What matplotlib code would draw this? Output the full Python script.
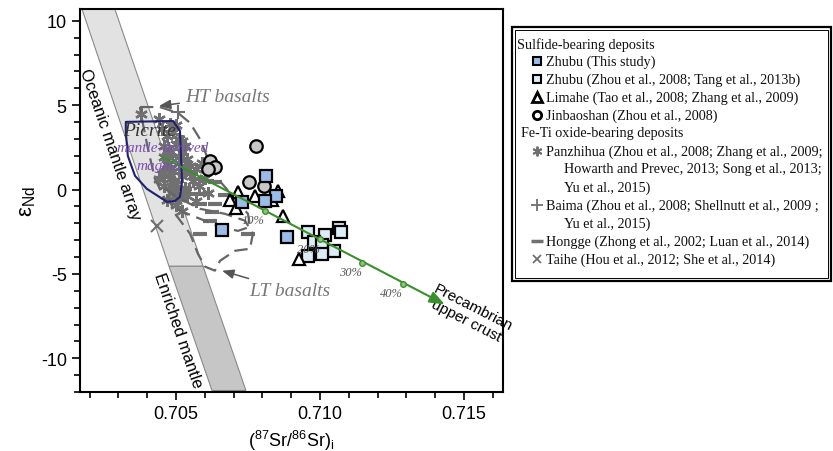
import matplotlib
matplotlib.use("Agg")
import matplotlib.pyplot as plt
from matplotlib.patches import Polygon, Rectangle
from matplotlib.ticker import MultipleLocator, FormatStrFormatter

plt.rcParams["font.family"] = ["Liberation Sans", "DejaVu Sans"]
plt.rcParams["mathtext.fontset"] = "custom"
plt.rcParams["mathtext.rm"] = "Liberation Sans"
plt.rcParams["axes.unicode_minus"] = False

# ── DATA ─────────────────────────────────────────────────────────────────────

# Zhubu (this study) – blue squares
zhubu_new_sr = [0.70811, 0.70847, 0.70809, 0.70728, 0.70659, 0.70886]
zhubu_new_nd = [0.79, -0.41, -0.65, -0.71, -2.38, -2.82]

# Zhubu (Zhou et al., 2008; Tang et al., 2013b) – light squares
zhubu_old_sr = [0.70958, 0.71017, 0.71066, 0.71073, 0.70979, 0.71007, 0.71049, 0.71007, 0.70958]
zhubu_old_nd = [-2.50, -2.68, -2.27, -2.50, -3.09, -3.27, -3.63, -3.80, -3.92]

# Limahe – open triangles
limahe_sr = [0.70715, 0.70687, 0.70708, 0.70774, 0.70854, 0.70833, 0.70872, 0.70927]
limahe_nd = [-0.14, -0.61, -1.08, -0.37, -0.08, -0.61, -1.56, -4.11]

# Jinbaoshan – grey circles
jinbao_sr = [0.70778, 0.70618, 0.70635, 0.70611, 0.70753, 0.70806]
jinbao_nd = [2.59, 1.70, 1.34, 1.22, 0.46, 0.22]

# Panzhihua – asterisks
panzhihua_sr = [0.7045, 0.7047, 0.7049, 0.7051, 0.7046, 0.7048, 0.7050, 0.7052, 0.7054,
                0.7047, 0.7049, 0.7051, 0.7053, 0.7055, 0.7048, 0.7050, 0.7052, 0.7056,
                0.7058, 0.7049, 0.7051, 0.7053, 0.7050, 0.7052, 0.7047, 0.7049, 0.7054,
                0.7057, 0.7060, 0.7044, 0.7038, 0.7046, 0.7048, 0.7053, 0.7055, 0.7045,
                0.7050, 0.7046, 0.7052, 0.7057, 0.7048, 0.7050, 0.7047, 0.7051, 0.7049,
                0.7053, 0.7046, 0.7044, 0.7059, 0.7061]
panzhihua_nd = [3.6, 3.2, 3.4, 3.0, 2.6, 2.3, 2.7, 2.2, 1.8,
                1.5, 1.1, 1.6, 1.3, 1.0, 0.6, 0.3, 0.8, 0.5,
                0.2, -0.2, -0.5, -0.1, -0.9, -1.3, -0.6, 0.0, -0.4,
                -0.7, 0.7, 4.2, 4.5, 1.9, 1.2, 2.6, 1.4, 0.9,
                -0.3, 0.2, 2.9, 1.2, 3.9, 3.8, 2.0, 1.9, 0.4,
                0.1, 1.0, 0.6, 1.6, -0.2]

# Baima – plus signs
baima_sr = [0.70507, 0.7049, 0.7051, 0.7053]
baima_nd = [4.59, 1.9, 0.9, -0.3]

# Hongge – dashes
hongge_sr = [0.70573, 0.70608, 0.70635, 0.70556, 0.70601, 0.70583, 0.70635,
             0.70625, 0.70670, 0.70531, 0.70583, 0.70750, 0.70618]
hongge_nd = [0.63, 0.51, 0.46, -0.25, -0.25, -0.85, -0.85,
             -1.32, -0.31, 0.04, -2.62, -2.62, -1.85]

# Taihe – crosses
taihe_sr = [0.70434]
taihe_nd = [-2.15]

# Mantle array band (upper = oceanic, lower = enriched)
oceanic_band = [(0.70174, 10.69), (0.70288, 10.69), (0.70594, -4.55), (0.70476, -4.55)]
enriched_band = [(0.70476, -4.55), (0.70594, -4.55), (0.70743, -11.91), (0.70625, -11.91)]

# Picrite field
picrite_field = [(0.70326, 4.01), (0.70490, 4.06), (0.70514, 3.47), (0.70521, 0.46),
                 (0.70514, -0.43), (0.70497, -0.67), (0.70469, -0.73), (0.70399, 0.04),
                 (0.70358, 0.81), (0.70333, 1.99), (0.70326, 3.41)]

# Basalt envelopes
ht_field = [(0.70375, 4.89), (0.70444, 4.89), (0.70507, 4.54), (0.70549, 3.95),
            (0.70583, 3.0), (0.70611, 1.82), (0.70646, 0.63), (0.70705, -0.55),
            (0.70750, -1.44), (0.70757, -2.21), (0.70715, -2.45), (0.70653, -2.21),
            (0.70583, -1.73), (0.70514, -1.26), (0.70462, -0.55), (0.70427, 0.63),
            (0.70403, 2.41), (0.70382, 4.18)]
lt_field = [(0.70462, 0.04), (0.70514, -0.55), (0.70583, -1.14), (0.70670, -1.44),
            (0.70740, -1.85), (0.70767, -2.62), (0.70757, -3.51), (0.70705, -3.63),
            (0.70653, -4.22), (0.70635, -4.81), (0.70601, -4.57), (0.70576, -3.80),
            (0.70549, -2.62), (0.70497, -1.44)]

# Crustal contamination line
mix_start = (0.70444, 2.0)
mix_end = (0.71441, -6.88)
mix_pct = ["10%", "20%", "30%", "40%"]
mix_sr = [0.70809, 0.71000, 0.71146, 0.71288]
mix_nd = [-1.26, -2.95, -4.34, -5.58]

# ── FIGURE ───────────────────────────────────────────────────────────────────

fig = plt.figure(figsize=(8.33, 4.52), dpi=100)
ax = fig.add_axes([80 / 833, 1 - 393 / 452, 423 / 833, 383 / 452])
ax.set_xlim(0.70167, 0.71635)
ax.set_ylim(-12, 10.7)

ax.add_patch(Polygon(oceanic_band, closed=True, facecolor="#e2e2e2", edgecolor="#8a8a8a", lw=0.8, zorder=1))
ax.add_patch(Polygon(enriched_band, closed=True, facecolor="#c6c6c6", edgecolor="#8a8a8a", lw=0.8, zorder=1))

gray = "#707070"
ax.plot(panzhihua_sr, panzhihua_nd, ls="none", marker=(6, 2, 0), ms=9, mec=gray, mew=1.7, zorder=2)
ax.plot(baima_sr, baima_nd, ls="none", marker="+", ms=10, mec=gray, mew=1.5, zorder=2)
ax.plot(hongge_sr, hongge_nd, ls="none", marker="_", ms=10, mec=gray, mew=3, zorder=2)
ax.plot(taihe_sr, taihe_nd, ls="none", marker="x", ms=8, mec=gray, mew=1.5, zorder=2)

for field in (ht_field, lt_field):
    ax.add_patch(Polygon(field, closed=True, fill=False, edgecolor="#666666", lw=1.6,
                         linestyle=(0, (6, 3)), joinstyle="round", zorder=3))

ax.add_patch(Polygon(picrite_field, closed=True, fill=False, edgecolor="#1f1f6e", lw=1.5,
                     joinstyle="round", zorder=4))

ax.plot(zhubu_old_sr, zhubu_old_nd, ls="none", marker="s", ms=9, mfc="#dcedf6", mec="black", mew=1.6, zorder=5)
ax.plot(limahe_sr, limahe_nd, ls="none", marker="^", ms=9, mfc="white", mec="black", mew=1.6, zorder=5)
ax.plot(jinbao_sr, jinbao_nd, ls="none", marker="o", ms=9, mfc="#c8c8c8", mec="black", mew=1.6, zorder=5)
ax.plot(zhubu_new_sr, zhubu_new_nd, ls="none", marker="s", ms=9, mfc="#9cbce8", mec="black", mew=1.6, zorder=6)

green = "#3b8e2e"
ax.annotate("", xy=mix_end, xytext=mix_start,
            arrowprops=dict(arrowstyle="-|>,head_length=0.9,head_width=0.35", color=green, lw=1.5),
            zorder=7)
ax.plot(mix_sr, mix_nd, ls="none", marker="o", ms=4, mfc="#8cc47c", mec=green, zorder=8)
for lab, x, y in zip(mix_pct, mix_sr, mix_nd):
    ax.text(x - 0.0004, y - 0.55, lab, family="Liberation Serif", style="italic",
            fontsize=9, color="#555555", ha="center", va="center", zorder=8)

# ── LABELS ───────────────────────────────────────────────────────────────────

ax.text(0.70271, 2.7, "Oceanic mantle array", rotation=-71, rotation_mode="anchor",
        ha="center", va="center", fontsize=12)
ax.text(0.70507, -8.3, "Enriched mantle", rotation=-71, rotation_mode="anchor",
        ha="center", va="center", fontsize=12)
ax.text(0.71520, -7.35, "Precambrian\nupper crust", rotation=-27, rotation_mode="anchor",
        ha="center", va="center", fontsize=11, linespacing=1.05)

ax.annotate("HT basalts", xy=(0.70441, 4.95), xytext=(0.70531, 5.49),
            family="Liberation Serif", style="italic", fontsize=14, color="#777777",
            ha="left", va="center",
            arrowprops=dict(arrowstyle="-|>,head_length=0.5,head_width=0.2", color="#555555", lw=1.1,
                            shrinkA=2, shrinkB=0))
ax.annotate("LT basalts", xy=(0.70660, -4.81), xytext=(0.70753, -5.99),
            family="Liberation Serif", style="italic", fontsize=14, color="#777777",
            ha="left", va="center",
            arrowprops=dict(arrowstyle="-|>,head_length=0.5,head_width=0.2", color="#555555", lw=1.1,
                            shrinkA=2, shrinkB=0))

ax.text(0.70410, 3.47, "Picrite", family="Liberation Serif", style="italic", fontsize=14,
        color="#333333", ha="center", va="center", zorder=9)
ax.text(0.70455, 2.52, "mantle-derived", family="Liberation Serif", style="italic", fontsize=11,
        color="#7b4fb0", ha="center", va="center", zorder=9)
ax.text(0.70441, 1.40, "magma", family="Liberation Serif", style="italic", fontsize=11,
        color="#7b4fb0", ha="center", va="center", zorder=9)

# ── AXES ─────────────────────────────────────────────────────────────────────

ax.xaxis.set_major_locator(MultipleLocator(0.005))
ax.xaxis.set_minor_locator(MultipleLocator(0.001))
ax.xaxis.set_major_formatter(FormatStrFormatter("%.3f"))
ax.yaxis.set_major_locator(MultipleLocator(5))
ax.yaxis.set_minor_locator(MultipleLocator(1))
ax.tick_params(which="both", direction="out", width=1.2, labelsize=13)
ax.tick_params(which="major", length=6)
ax.tick_params(which="minor", length=4)
for sp in ax.spines.values():
    sp.set_linewidth(1.5)

ax.set_xlabel(r"($^{87}$Sr/$^{86}$Sr)$_{\rm i}$", fontsize=13, labelpad=4)
ax.set_ylabel(r"ε$_{\rm Nd}$", fontsize=16, labelpad=2)

# ── LEGEND PANEL (pixel coordinates) ─────────────────────────────────────────

lg = fig.add_axes([0, 0, 1, 1], zorder=10)
lg.set_xlim(0, 833)
lg.set_ylim(452, 0)
lg.axis("off")
lg.patch.set_alpha(0)

lg.add_patch(Rectangle((512, 28), 319, 254, fill=True, facecolor="white", edgecolor="black", lw=1.6))
lg.add_patch(Rectangle((515, 31), 313, 248, fill=False, edgecolor="black", lw=0.7))

serif = dict(family="Liberation Serif", fontsize=10.2, va="center", ha="left", color="#111111")
legend_rows = [
    (517, 45, "Sulfide-bearing deposits"),
    (546, 62, "Zhubu (This study)"),
    (546, 80, "Zhubu (Zhou et al., 2008; Tang et al., 2013b)"),
    (546, 98, "Limahe (Tao et al., 2008; Zhang et al., 2009)"),
    (546, 116, "Jinbaoshan (Zhou et al., 2008)"),
    (521, 134, "Fe-Ti oxide-bearing deposits"),
    (546, 152, "Panzhihua (Zhou et al., 2008; Zhang et al., 2009;"),
    (564, 170, "Howarth and Prevec, 2013; Song et al., 2013;"),
    (564, 188, "Yu et al., 2015)"),
    (546, 206, "Baima (Zhou et al., 2008; Shellnutt et al., 2009 ;"),
    (564, 224, "Yu et al., 2015)"),
    (546, 242, "Hongge (Zhong et al., 2002; Luan et al., 2014)"),
    (546, 260, "Taihe (Hou et al., 2012; She et al., 2014)"),
]
for x, y, s in legend_rows:
    lg.text(x, y, s, **serif)

mk = 537
lg.plot(mk, 62, marker="s", ms=6, mfc="#9cbce8", mec="black", mew=1.5)
lg.plot(mk, 80, marker="s", ms=6, mfc="#dcedf6", mec="black", mew=1.5)
lg.plot(mk, 98, marker="^", ms=6.5, mfc="white", mec="black", mew=2)
lg.plot(mk, 116, marker="o", ms=6, mfc="white", mec="black", mew=2)
lg.plot(mk, 152, marker=(6, 2, 0), ms=7, mec=gray, mew=1.4)
lg.plot(mk, 206, marker="+", ms=8, mec=gray, mew=1.3)
lg.plot(mk, 242, marker="_", ms=8, mec=gray, mew=2.5)
lg.plot(mk, 260, marker="x", ms=6, mec=gray, mew=1.3)

plt.savefig("out.png", dpi=100)
